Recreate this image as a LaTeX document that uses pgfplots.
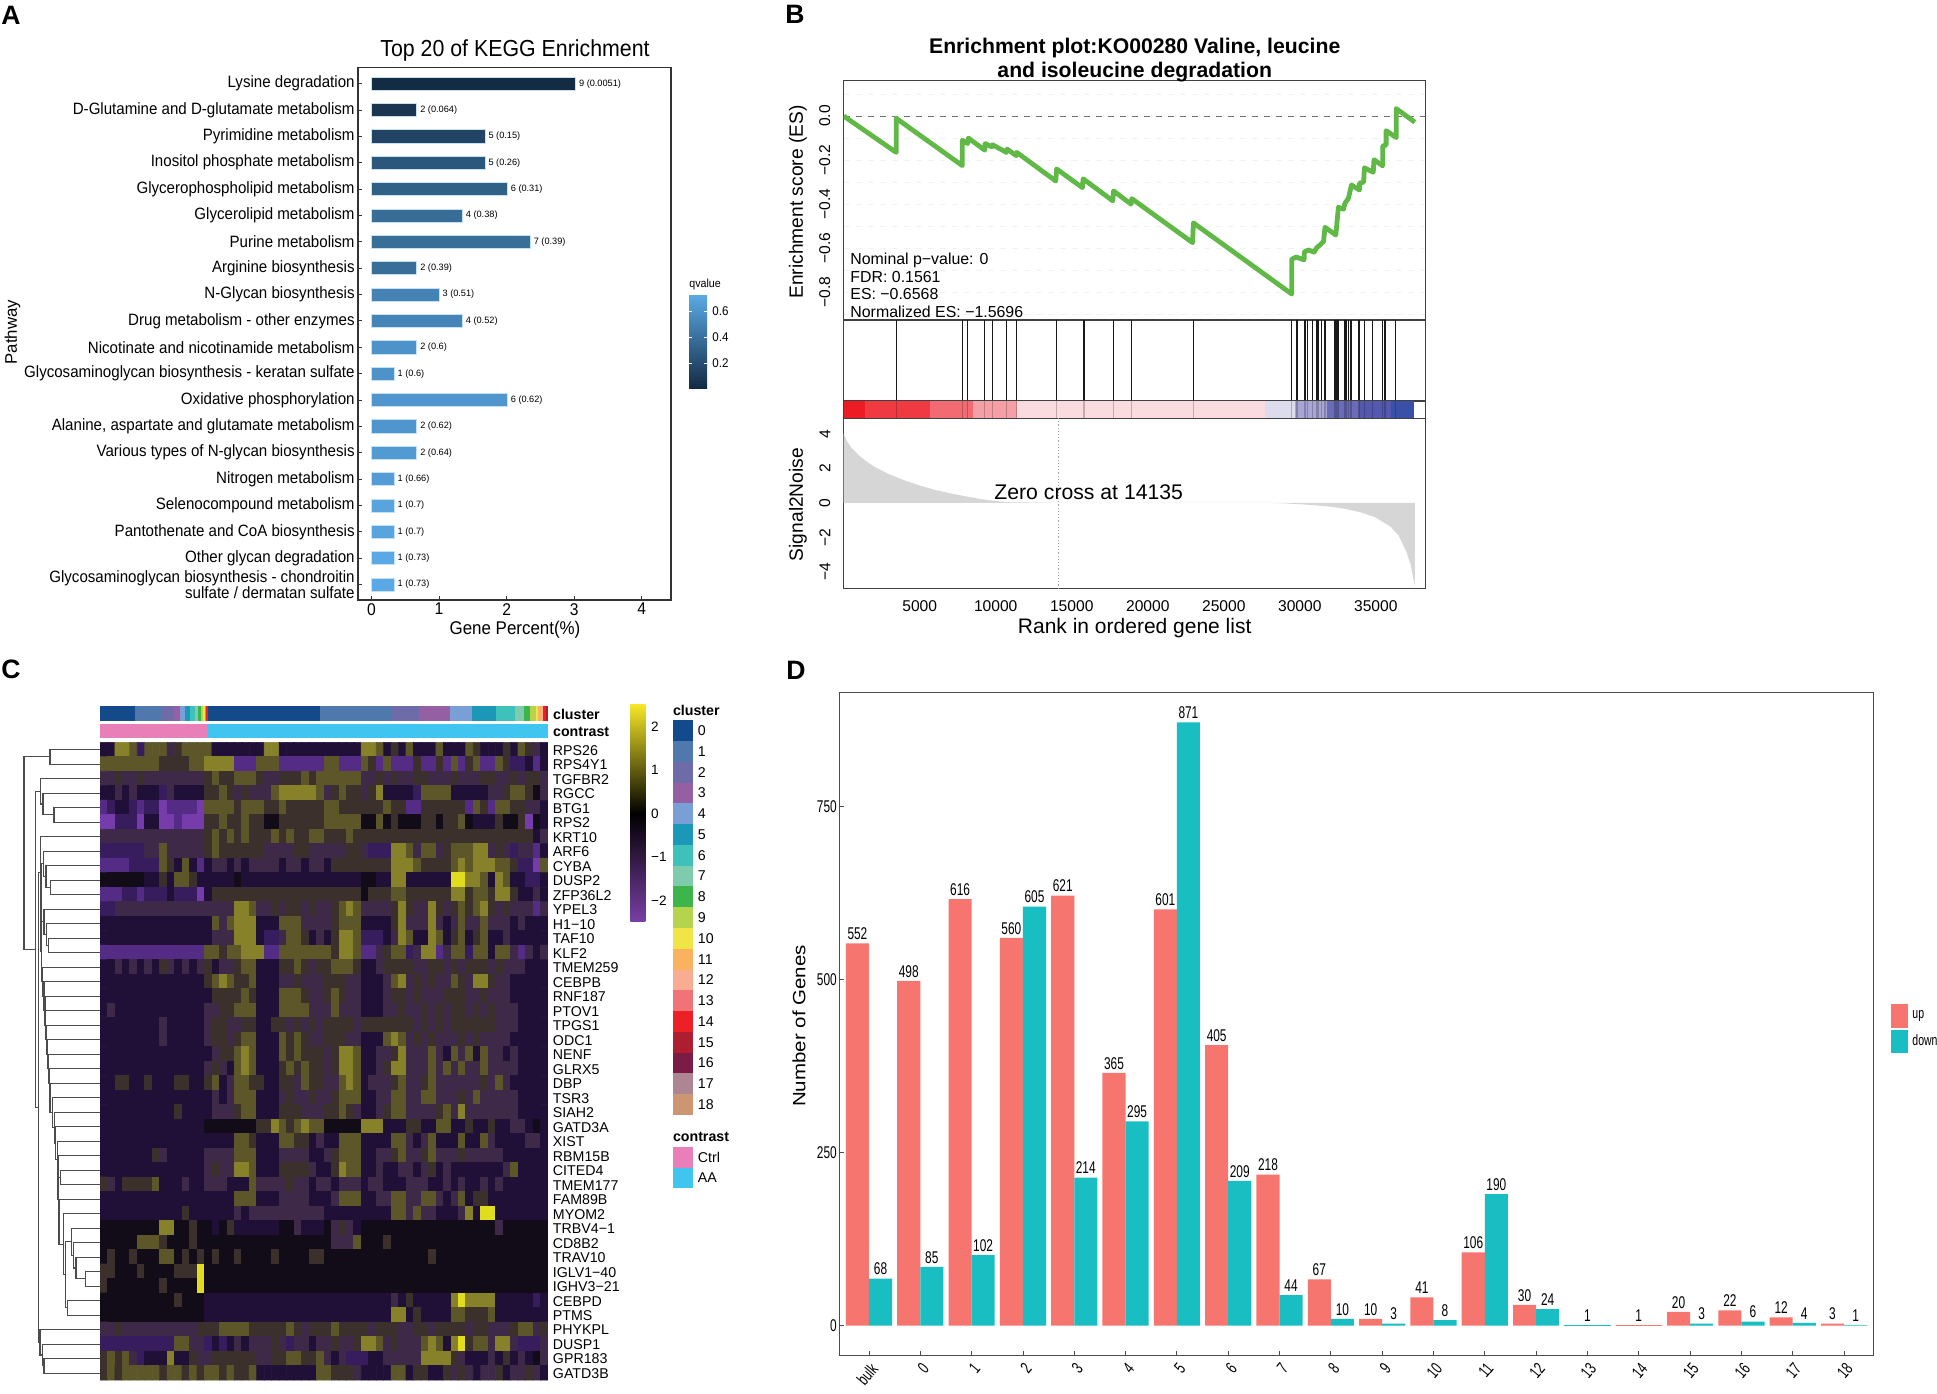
\documentclass[border=0pt]{standalone}
\usepackage{fontspec}
\usepackage{pgfplots}
\usepackage{pgfplotstable}
\pgfplotsset{compat=1.18}
\setmainfont{Liberation Sans}
\newfontfamily\fA[FakeStretch=0.92]{Liberation Sans}
\newfontfamily\fD[FakeStretch=0.7]{Liberation Sans}
\newfontfamily\fW[FakeStretch=1.15]{Liberation Sans}
\newcommand\fs[1]{\fontsize{#1}{#1}\selectfont}

% panel A
\definecolor{qlow}{HTML}{132B43}
\definecolor{qhigh}{HTML}{5AA9E6}
\newcommand\qbar[4]{\addplot[xbar,bar shift=0pt,bar width=6.6pt,draw=qhigh!35!white,line width=.3pt,fill=qhigh!#3!qlow,nodes near coords={#4}] coordinates {(#1,#2)};}

% panel B: gene hits
\pgfplotstableread{
r h
3450 1
7800 1
8150 1
9280 1
9780 1
10720 1
11380 1
14000 1
15800 1
17750 1
18950 1
23000 1
29470 1
29760 1
29845 1
30305 1
30390 1
30500 1
30830 1
31120 1
31170 1
31225 1
31445 1
31620 1
31660 1
31710 1
32320 1
32380 1
32435 1
32490 1
32540 1
32915 1
33045 1
33200 1
33310 1
33365 1
33420 1
33900 1
34250 1
34800 1
35435 1
35610 1
36290 1
}\hits
\definecolor{esgreen}{HTML}{60B946}
\definecolor{s1}{HTML}{ED1C24}\definecolor{s2}{HTML}{EE3A40}\definecolor{s3}{HTML}{F26A72}
\definecolor{s4}{HTML}{F5A0A6}\definecolor{s5}{HTML}{FADBE0}\definecolor{s6}{HTML}{DCDCEC}
\definecolor{s7}{HTML}{A9A6D6}\definecolor{s8}{HTML}{6A6CB8}\definecolor{s9}{HTML}{5459AE}
\definecolor{s10}{HTML}{3A50A8}

% panel C colours
\definecolor{c0}{HTML}{124A8C}\definecolor{c1}{HTML}{4F79AD}\definecolor{c2}{HTML}{6D6BA8}
\definecolor{c3}{HTML}{9460A3}\definecolor{c4}{HTML}{7A9FD6}\definecolor{c5}{HTML}{1B97B8}
\definecolor{c6}{HTML}{3EC0BB}\definecolor{c7}{HTML}{7FCBAE}\definecolor{c8}{HTML}{3CB54A}
\definecolor{c9}{HTML}{B6D34E}\definecolor{c10}{HTML}{F0E446}\definecolor{c11}{HTML}{FBB25E}
\definecolor{c12}{HTML}{F8AC92}\definecolor{c13}{HTML}{F27377}\definecolor{c14}{HTML}{EE2027}
\definecolor{c15}{HTML}{AD1F30}\definecolor{c16}{HTML}{7B1B46}\definecolor{c17}{HTML}{AD8593}
\definecolor{c18}{HTML}{CC9673}
\definecolor{ctrl}{HTML}{E87FB8}\definecolor{aa}{HTML}{3FC5F0}
\definecolor{cbp}{HTML}{7A3FA5}\definecolor{cby}{HTML}{F5E627}

% heatmap: one string per gene, 60 columns, levels 0-9 of the colormap below
\newcount\hmc \newcount\hmr
\gdef\hmlist{}
\def\hmeat#1{\ifx#1\hmstop\else\advance\hmc by 1\relax\xdef\hmlist{\hmlist(\the\hmc,\the\hmr)[#1]}\expandafter\hmeat\fi}
\newcommand\hrow[1]{\advance\hmr by 1\relax\hmc=0\relax\hmeat#1\hmstop}
\hrow{3388727775 6777733333 3388333333 3333388736 3733373337 6333637653}
\hrow{7777777766 6677888811 1777111111 7711176171 1161161716 7117622313}
\hrow{5565565555 5555676677 7655666767 7777755656 5566555655 5665565665}
\hrow{3353533325 3333667656 5557888887 5676656833 3327777333 3355677645}
\hrow{1233212201 1110777767 7766766666 7766666676 6116666661 7617766553}
\hrow{0022203300 1000667667 6644666666 7777744746 4446646674 3336446043}
\hrow{5555555555 5555676767 6667676677 6667666666 6666666666 6666666635}
\hrow{2222225575 5555676666 6655556655 5556652228 8757756777 8856525513}
\hrow{1111222276 3731355353 5555355355 3666666668 8876666787 8887762207}
\hrow{4444443363 7763333343 3333333333 3333344338 8333333998 8738733223}
\hrow{1112212223 2220366666 6666666666 6666646667 7666666886 7768863353}
\hrow{2255555555 5555555588 7556566565 5678755556 8655865676 7865655515}
\hrow{3333333333 3333375788 8333777555 5677733336 8555853575 5755535333}
\hrow{3333333333 3333355588 8322577635 3688722235 8733873673 6733533333}
\hrow{1111111111 1111776778 8811777777 7688711567 7258815772 7737751535}
\hrow{3353535365 3535635567 7333667656 6777633566 6655665656 6656555333}
\hrow{3333333333 3333678766 7333556555 6665533357 8565655765 8865533333}
\hrow{3333333333 3333366667 6333777655 6765533356 6565556665 5655533333}
\hrow{3533333333 3333556677 7333777755 5755533355 6556565665 6565553333}
\hrow{3333333353 3333566556 6336656565 6666566666 6656565666 6665553333}
\hrow{3333333353 3333566567 7333767655 6665533378 7565655565 6555533333}
\hrow{3333333333 3333356678 7333767666 5688733556 8555753757 3755353333}
\hrow{3333333333 3333565378 7333676766 5688733568 8555757575 5755553333}
\hrow{3366336333 6633673577 6633665766 5578735556 7556755555 5657533333}
\hrow{3333333333 3333353577 7333565565 5677733557 7557755565 7555553333}
\hrow{3333333333 6333355567 7333666555 6676533567 7555567585 5555553333}
\hrow{3333333333 3333444444 4668767877 4444488833 3663377336 3363355343}
\hrow{3333333333 3333333377 6333776635 3377733337 7535733373 3753333553}
\hrow{3333333653 3333555577 7333555533 5677733556 7556755565 5555333333}
\hrow{3333333333 3333565588 7333666653 3687733533 5535635333 3333573333}
\hrow{6536666733 3533555333 7555565535 5355535533 3555335353 3535333333}
\hrow{3333333333 3333333377 7333555533 3577733557 7557753573 6633333333}
\hrow{3333333333 3633333353 5555555555 3333333337 7575533358 3993333333}
\hrow{4444444488 4464434633 3333445333 4565344444 4444444444 4445444444}
\hrow{4444477764 4464444444 4444444444 4555744464 4444444444 4444444444}
\hrow{4644644477 4646464464 4446444466 4444444444 4444644444 4444444444}
\hrow{6644464444 6669444444 4444444444 4444444444 4444444444 4444444444}
\hrow{6444444464 4449444444 4444444444 4444444444 4444444444 4444444444}
\hrow{4444444444 6444333333 3333333333 3333333335 3633333898 8883333323}
\hrow{4444444444 4444333333 3333333333 3333333338 8363333776 6673333333}
\hrow{5565555555 5556667777 6666676566 6766665666 5566566665 6655567756}
\hrow{2222222222 7755232353 5556525535 5655688756 5557873896 7758852225}
\hrow{6767523338 3365566666 6556677667 5352223355 5558888653 3353635345}
\hrow{6767777767 7676776766 7333333337 7666533337 7366336565 3556355653}

% dendrogram helper, pixel coordinates of the page
\newcommand\dn[5]{\addplot[line width=.55pt,color=black!70,mark=none] coordinates {(#1,#2)(#3,#2)(#3,#5)(#4,#5)};}
\newcommand\cs[3]{\addplot[fill=#3,draw=none] coordinates {(#1,706)(#2,706)(#2,721)(#1,721)} --cycle;}
\newcommand\band[3]{\addplot[fill=#3,draw=none] coordinates {(#1,0)(#2,0)(#2,1)(#1,1)} --cycle;}

\definecolor{upc}{HTML}{F6766F}
\definecolor{dnc}{HTML}{19BEC2}

\begin{document}
\begin{tikzpicture}
\fill[white,use as bounding box] (0pt,0pt) rectangle (968.5pt,-696.5pt);

% ---------- A
\begin{axis}[
  at={(179pt,-299.9pt)},anchor=south west,scale only axis,
  width=156.3pt,height=266.2pt,
  xmin=-0.2,xmax=4.426,ymin=0.385,ymax=20.58,y dir=reverse,
  axis line style={draw=black!80,line width=.9pt},
  xtick={0,1,2,3,4},xticklabels={0,1,2,3,4},
  ytick={1,...,20},
  yticklabels={Lysine degradation,D-Glutamine and D-glutamate metabolism,Pyrimidine metabolism,Inositol phosphate metabolism,Glycerophospholipid metabolism,Glycerolipid metabolism,Purine metabolism,Arginine biosynthesis,N-Glycan biosynthesis,Drug metabolism - other enzymes,Nicotinate and nicotinamide metabolism,Glycosaminoglycan biosynthesis - keratan sulfate,Oxidative phosphorylation,{Alanine, aspartate and glutamate metabolism},Various types of N-glycan biosynthesis,Nitrogen metabolism,Selenocompound metabolism,Pantothenate and CoA biosynthesis,Other glycan degradation,{Glycosaminoglycan biosynthesis - chondroitin\\sulfate / dermatan sulfate}},
  yticklabel style={font=\fA\fs{8.2},align=right,inner sep=1.5pt},
  xticklabel style={font=\fA\fs{8.5},inner sep=1.5pt},
  tick style={black!80,line width=.4pt},
  major tick length=2pt,
  xtick pos=bottom,ytick pos=left,
  every node near coord/.append style={font=\fs{4.6},text=black,inner sep=1.6pt},
]
\qbar{3.02}{1}{0}{9 (0.0051)}
\qbar{0.67}{2}{8}{2 (0.064)}
\qbar{1.68}{3}{20}{5 (0.15)}
\qbar{1.68}{4}{35}{5 (0.26)}
\qbar{2.01}{5}{42}{6 (0.31)}
\qbar{1.345}{6}{52}{4 (0.38)}
\qbar{2.35}{7}{53}{7 (0.39)}
\qbar{0.67}{8}{53}{2 (0.39)}
\qbar{1.0}{9}{70}{3 (0.51)}
\qbar{1.345}{10}{71}{4 (0.52)}
\qbar{0.67}{11}{82}{2 (0.6)}
\qbar{0.336}{12}{82}{1 (0.6)}
\qbar{2.01}{13}{85}{6 (0.62)}
\qbar{0.67}{14}{85}{2 (0.62)}
\qbar{0.67}{15}{88}{2 (0.64)}
\qbar{0.336}{16}{90}{1 (0.66)}
\qbar{0.336}{17}{96}{1 (0.7)}
\qbar{0.336}{18}{96}{1 (0.7)}
\qbar{0.336}{19}{100}{1 (0.73)}
\qbar{0.336}{20}{100}{1 (0.73)}
\end{axis}

% ---------- B, running score
\begin{axis}[
  at={(421.85pt,-160pt)},anchor=south west,scale only axis,
  width=291pt,height=119.6pt,
  xmin=0,xmax=38283,ymin=-0.926,ymax=0.16,
  xtick=\empty,
  ytick={-0.9,-0.8,...,0.1},
  yticklabels={,−0.8,,−0.6,,−0.4,,−0.2,,0.0,},
  yticklabel style={font=\fs{7.8},rotate=90,anchor=south,inner sep=6.5pt},
  major tick length=0pt,
  ymajorgrids,grid style={dashed,line width=.3pt,black!5},
  axis line style={draw=black!75,line width=.6pt},
]
\addplot[dashed,line width=.4pt,black!55] coordinates {(0,0)(38283,0)};
\addplot[esgreen,line width=2.4pt,line join=round,mark=none] coordinates {
(0,0)(3450,-0.165)(3450,-0.01)(7800,-0.225)(7800,-0.11)(8150,-0.125)(8200,-0.10)
(9280,-0.155)(9300,-0.125)(9750,-0.14)(9780,-0.13)(10700,-0.165)(10750,-0.15)
(11350,-0.18)(11380,-0.165)(13950,-0.295)(14000,-0.24)(15700,-0.325)(15750,-0.285)
(17700,-0.385)(17750,-0.34)(18900,-0.40)(18950,-0.375)(22950,-0.575)(23000,-0.485)
(29470,-0.808)(29470,-0.65)(29760,-0.64)(30280,-0.653)(30305,-0.616)(30570,-0.608)
(30940,-0.618)(31120,-0.597)(31340,-0.585)(31560,-0.57)(31660,-0.505)(32370,-0.54)
(32540,-0.414)(32870,-0.423)(32970,-0.396)(33200,-0.373)(33400,-0.313)(33920,-0.336)
(33920,-0.305)(34200,-0.30)(34250,-0.235)(34830,-0.255)(34880,-0.198)(35450,-0.226)
(35450,-0.136)(35680,-0.132)(35680,-0.066)(36340,-0.098)(36340,0.034)(37570,-0.028)};
\end{axis}

% ---------- B, hit ticks
\begin{axis}[
  at={(421.85pt,-200.45pt)},anchor=south west,scale only axis,
  width=291pt,height=40.45pt,
  xmin=0,xmax=38283,ymin=0,ymax=1,xtick=\empty,ytick=\empty,
  axis line style={draw=black!75,line width=.6pt},
]
\addplot[ycomb,line width=.6pt,black!90,mark=none] table[x=r,y=h] \hits;
\end{axis}

% ---------- B, ranking strip
\begin{axis}[
  at={(421.85pt,-209.15pt)},anchor=south west,scale only axis,
  width=291pt,height=8.7pt,
  xmin=0,xmax=38283,ymin=0,ymax=1,xtick=\empty,ytick=\empty,
  axis line style={draw=black!75,line width=.6pt},
]
\band{0}{1430}{s1}
\band{1430}{5650}{s2}
\band{5650}{8480}{s3}
\band{8480}{11420}{s4}
\band{11420}{27690}{s5}
\band{27690}{29690}{s6}
\band{29690}{31770}{s7}
\band{31770}{33900}{s8}
\band{33900}{36000}{s9}
\band{36000}{37540}{s10}
\addplot[ycomb,line width=.6pt,black,draw opacity=.22,mark=none] table[x=r,y=h] \hits;
\end{axis}

% ---------- B, signal to noise
\begin{axis}[
  at={(421.85pt,-294.35pt)},anchor=south west,scale only axis,
  width=291pt,height=85.2pt,
  xmin=0,xmax=38283,ymin=-4.98,ymax=4.9,
  scaled x ticks=false,
  xtick={5000,10000,15000,20000,25000,30000,35000},
  xticklabels={5000,10000,15000,20000,25000,30000,35000},
  ytick={-4,-2,0,2,4},yticklabels={−4,−2,0,2,4},
  yticklabel style={font=\fs{7.8},rotate=90,anchor=south,inner sep=6.5pt},
  xticklabel style={font=\fs{7.8},inner sep=5.5pt},
  major tick length=0pt,
  axis line style={draw=black!75,line width=.6pt},
]
\addplot[fill=black!16,draw=none] coordinates {
(0,0)(0,4.0)(200,3.6)(500,3.2)(1000,2.75)(1500,2.4)(2000,2.1)(3000,1.65)(4000,1.3)(5000,1.0)
(6000,0.75)(7000,0.55)(8000,0.38)(9000,0.22)(10000,0.1)(11000,0.03)(14135,0)(28000,0)
(29000,-0.03)(30000,-0.08)(31000,-0.14)(32000,-0.22)(33000,-0.35)(34000,-0.55)(35000,-0.85)
(36000,-1.4)(36500,-1.9)(37000,-2.8)(37300,-3.6)(37570,-4.8)(37570,0)} --cycle;
\addplot[densely dotted,line width=.6pt,black!35] coordinates {(14135,-4.98)(14135,4.9)};
\end{axis}

% ---------- C heatmap
\begin{axis}[
  at={(50pt,-690pt)},anchor=south west,scale only axis,
  width=224pt,height=318.85pt,
  xmin=0.5,xmax=60.5,ymin=0.5,ymax=44.5,y dir=reverse,
  colormap={hm}{rgb255=(118,60,172) rgb255=(84,44,134) rgb255=(55,28,94) rgb255=(32,16,56) rgb255=(18,12,24) rgb255=(62,42,72) rgb255=(60,48,44) rgb255=(92,86,40) rgb255=(135,130,42) rgb255=(225,220,30)},
  point meta min=0,point meta max=9,
  xtick=\empty,ytick={1,...,44},
  yticklabels={RPS26,RPS4Y1,TGFBR2,RGCC,BTG1,RPS2,KRT10,ARF6,CYBA,DUSP2,ZFP36L2,YPEL3,H1−10,TAF10,KLF2,TMEM259,CEBPB,RNF187,PTOV1,TPGS1,ODC1,NENF,GLRX5,DBP,TSR3,SIAH2,GATD3A,XIST,RBM15B,CITED4,TMEM177,FAM89B,MYOM2,TRBV4−1,CD8B2,TRAV10,IGLV1−40,IGHV3−21,CEBPD,PTMS,PHYKPL,DUSP1,GPR183,GATD3B},
  ytick pos=right,yticklabel pos=right,
  yticklabel style={font=\fs{7.1},inner sep=2.3pt,yshift=-.4pt},
  major tick length=0pt,
  axis line style={draw=none},
]
\edef\hmplot{\noexpand\addplot[matrix plot*,mesh/cols=60,point meta=explicit] coordinates {\hmlist};}
\hmplot
\end{axis}

% ---------- D
\begin{axis}[
  at={(419.6pt,-677.8pt)},anchor=south west,scale only axis,
  width=517.3pt,height=331.45pt,
  xmin=-0.58,xmax=19.58,ymin=-43.2,ymax=914,
  /pgf/number format/assume math mode=true,
  axis line style={draw=black!70,line width=.6pt},
  xtick={0,...,19},
  xticklabels={bulk,0,1,2,3,4,5,6,7,8,9,10,11,12,13,14,15,16,17,18},
  xticklabel style={font=\fD\fs{8.5},rotate=50,anchor=north east,inner sep=2pt},
  ytick={0,250,500,750},yticklabels={0,250,500,750},
  yticklabel style={font=\fD\fs{8.5},inner sep=1pt},
  tick style={black!70,line width=.4pt},major tick length=2.2pt,
  xtick pos=bottom,ytick pos=left,
  every node near coord/.append style={font=\fD\fs{8.5},text=black,inner sep=1.6pt},
  legend style={at={(1.0165,0.493)},anchor=west,draw=none,fill=none,font=\fD\fs{7.5},inner sep=0pt,row sep=1pt,legend cell align=left},
  legend image code/.code={\fill[#1] (0pt,-5.9pt) rectangle (8.6pt,5.9pt);},
]
\addplot[ybar,bar shift=-0.225,bar width=0.45,fill=upc,draw=none,nodes near coords,every node near coord/.append style={xshift=-5.77pt}] coordinates {
(0,552)(1,498)(2,616)(3,560)(4,621)(5,365)(6,601)(7,405)(8,218)(9,67)(10,10)(11,41)(12,106)(13,30)(16,20)(17,22)(18,12)(19,3)};
\addplot[ybar,bar shift=0.225,bar width=0.45,fill=dnc,draw=none,nodes near coords,every node near coord/.append style={xshift=5.77pt}] coordinates {
(0,68)(1,85)(2,102)(3,605)(4,214)(5,295)(6,871)(7,209)(8,44)(9,10)(10,3)(11,8)(12,190)(13,24)(16,3)(17,6)(18,4)(19,1)};
\addplot[ybar,bar shift=0,bar width=0.9,fill=dnc,draw=none,nodes near coords,forget plot] coordinates {(14,1)};
\addplot[ybar,bar shift=0,bar width=0.9,fill=upc,draw=none,nodes near coords,forget plot] coordinates {(15,1)};
\legend{up,down}
\end{axis}

% ---------- page coordinates: strips and dendrogram of C
\begin{axis}[
  at={(0pt,-696.5pt)},anchor=south west,scale only axis,
  width=968.5pt,height=696.5pt,
  xmin=0,xmax=1937,ymin=0,ymax=1393,y dir=reverse,hide axis,clip=false,
]
\cs{100}{135.3}{c0}\cs{135.3}{161.2}{c1}\cs{161.2}{173.1}{c2}\cs{173.1}{180.1}{c3}\cs{180.1}{185.1}{c4}
\cs{185.1}{190}{c5}\cs{190}{195}{c6}\cs{195}{198}{c7}\cs{198}{200.5}{c8}\cs{200.5}{203}{c9}
\cs{203}{204.5}{c10}\cs{204.5}{206}{c13}\cs{206}{207.5}{c14}
\cs{207.5}{319.9}{c0}\cs{319.9}{391}{c1}\cs{391}{418.9}{c2}\cs{418.9}{449.8}{c3}\cs{449.8}{472.1}{c4}
\cs{472.1}{496}{c5}\cs{496}{514.9}{c6}\cs{514.9}{523.9}{c7}\cs{523.9}{530.3}{c8}\cs{530.3}{535.8}{c9}
\cs{535.8}{538.3}{c10}\cs{538.3}{540.8}{c11}\cs{540.8}{543.3}{c12}\cs{543.3}{545.8}{c14}\cs{545.8}{547.8}{c15}
\addplot[fill=ctrl,draw=none] coordinates {(100,723.6)(207.5,723.6)(207.5,738)(100,738)} --cycle;
\addplot[fill=aa,draw=none] coordinates {(207.5,723.6)(547.8,723.6)(547.8,738)(207.5,738)} --cycle;
\dn{100}{749.6}{50}{100}{764.1}
\dn{100}{807.6}{54}{100}{822.1}
\dn{100}{793.1}{43}{54}{814.9}
\dn{100}{778.6}{40.7}{43}{804}
\dn{100}{880.1}{50.7}{100}{894.6}
\dn{100}{865.6}{46}{50.7}{887.4}
\dn{100}{851.1}{43.3}{46}{876.5}
\dn{100}{938.1}{48.3}{100}{952.6}
\dn{100}{923.6}{46.7}{48.3}{945.4}
\dn{100}{909.1}{44}{46.7}{934.5}
\dn{100}{1170.1}{60.7}{100}{1184.6}
\dn{100}{1271.6}{85.7}{100}{1286.1}
\dn{100}{1257.1}{76}{85.7}{1278.9}
\dn{100}{1242.6}{73.3}{76}{1268}
\dn{100}{1228.1}{71.7}{73.3}{1255.3}
\dn{100}{1300.6}{67.3}{100}{1315.1}
\dn{71.7}{1241.7}{65.7}{67.3}{1307.9}
\dn{100}{1213.6}{63.3}{65.7}{1274.8}
\dn{100}{1199.1}{59}{63.3}{1244.2}
\dn{60.7}{1177.4}{58.5}{59}{1221.7}
\dn{100}{1155.6}{58}{58.5}{1199.5}
\dn{100}{1141.1}{57.3}{58}{1177.6}
\dn{100}{1126.6}{55.7}{57.3}{1159.3}
\dn{100}{1112.1}{54.3}{55.7}{1143}
\dn{100}{1097.6}{52.7}{54.3}{1127.5}
\dn{100}{1083.1}{50}{52.7}{1112.6}
\dn{100}{1068.6}{49.3}{50}{1097.8}
\dn{100}{1054.1}{48.3}{49.3}{1083.2}
\dn{100}{1039.6}{47.7}{48.3}{1068.7}
\dn{100}{1025.1}{46.7}{47.7}{1054.1}
\dn{100}{1010.6}{45.7}{46.7}{1039.6}
\dn{100}{996.1}{45}{45.7}{1025.1}
\dn{100}{981.6}{44}{45}{1010.6}
\dn{100}{967.1}{42.7}{44}{996.1}
\dn{44}{921.8}{41.5}{42.7}{981.6}
\dn{43.3}{863.8}{41}{41.5}{951.7}
\dn{100}{836.6}{40.2}{41}{907.8}
\dn{100}{1358.6}{44}{100}{1373.1}
\dn{100}{1344.1}{42.3}{44}{1365.9}
\dn{100}{1329.6}{40}{42.3}{1355}
\dn{40.2}{872.2}{38.3}{40}{1342.3}
\dn{40.7}{791.3}{35.7}{38.3}{1107.3}
\dn{50}{756.9}{24}{35.7}{949.3}
\end{axis}

% ---------- texts and legends, in pixels of the page
\begin{scope}[x=.5pt,y=-.5pt]
\foreach \t/\x/\y in {A/11/15,B/795/14,C/11/669,D/796/670}
  \node[font=\bfseries\fs{13.3}] at (\x,\y) {\t};

% A
\node[font=\fA\fs{11.6}] at (515,50.5) {Top 20 of KEGG Enrichment};
\node[font=\fA\fs{9.2}] at (515,630) {Gene Percent(\%)};
\node[font=\fs{8.4},rotate=90] at (12.5,332) {Pathway};
\node[font=\fA\fs{5.8},anchor=west,inner sep=0pt] at (689,284) {qvalue};
\shade[bottom color=qlow,top color=qhigh] (689,295) rectangle (707,388);
\foreach \y/\l in {311/0.6,337/0.4,363/0.2}{
  \node[font=\fA\fs{6.3},anchor=west,inner sep=0pt] at (712,\y) {\l};
  \draw[white,line width=.3pt] (689,\y) -- (692,\y) (704,\y) -- (707,\y);
}

% B
\node[font=\bfseries\fs{10.6},align=center] at (1134.7,60.5) {Enrichment plot:KO00280 Valine, leucine\\[1.4pt]and isoleucine degradation};
\node[font=\fs{9.6},rotate=90] at (798,202) {Enrichment score (ES)};
\node[font=\fs{9.6},rotate=90] at (798,504.5) {Signal2Noise};
\node[font=\fs{10.5}] at (1134.7,628) {Rank in ordered gene list};
\node[font=\fs{10.6}] at (1088.7,492.5) {Zero cross at 14135};
\foreach \y/\l in {260.5/Nominal p−value: 0,277/FDR: 0.1561,294/ES: −0.6568,311.5/Normalized ES: −1.5696}
  \node[font=\fs{7.95},anchor=west,inner sep=0pt] at (850,\y) {\l};

% C
\node[font=\bfseries\fs{7.1},anchor=west,inner sep=0pt] at (552.7,714.5) {cluster};
\node[font=\bfseries\fs{7.1},anchor=west,inner sep=0pt] at (552.7,731.8) {contrast};
\shade[bottom color=cbp,top color=cby,middle color=black] (630.3,704.9) rectangle (645.3,921.8);
\foreach \y/\l in {726.9/2,770.3/1,813.8/0,857.3/−1,900.8/−2}
  \node[font=\fs{6.8},anchor=west,inner sep=0pt] at (650.7,\y) {\l};
\node[font=\bfseries\fs{7.1},anchor=west,inner sep=0pt] at (672.6,710.5) {cluster};
\foreach \i in {0,...,18}{
  \fill[c\i] (672.6,720.3+\i*20.77) rectangle (693,720.3+\i*20.77+20.77);
  \node[font=\fs{7.1},anchor=west,inner sep=0pt] at (697.5,730.7+\i*20.77) {\i};
}
\node[font=\bfseries\fs{7.1},anchor=west,inner sep=0pt] at (672.6,1136.9) {contrast};
\fill[ctrl] (672.6,1146.7) rectangle (693,1167.5);
\fill[aa] (672.6,1167.5) rectangle (693,1188.3);
\node[font=\fs{7.1},anchor=west,inner sep=0pt] at (697.5,1157.1) {Ctrl};
\node[font=\fs{7.1},anchor=west,inner sep=0pt] at (697.5,1177.9) {AA};

% D
\node[font=\fW\fs{8.9},rotate=90] at (799,1026) {Number of Genes};
\end{scope}
\end{tikzpicture}
\end{document}
